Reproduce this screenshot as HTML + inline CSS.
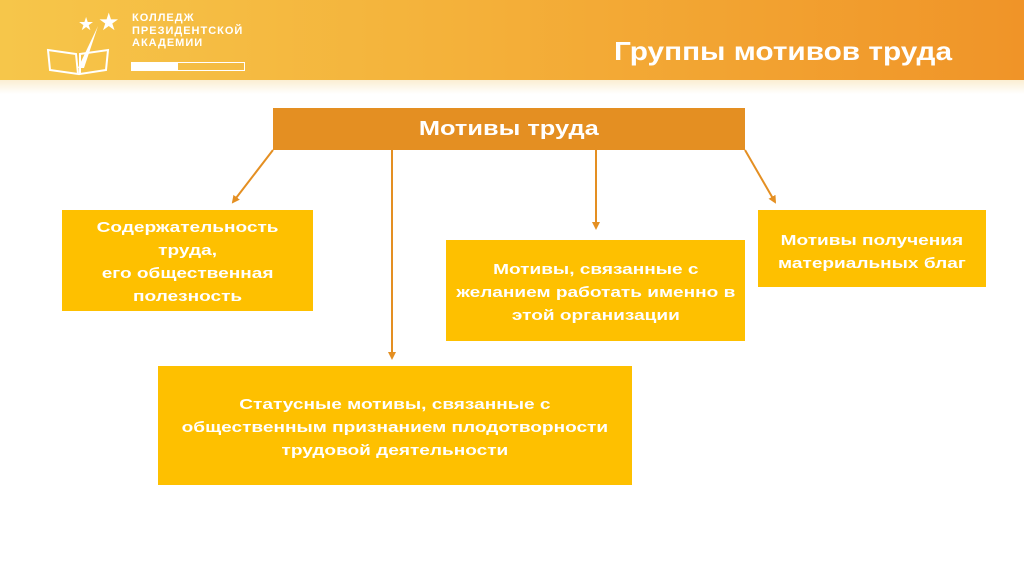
<!DOCTYPE html>
<html><head><meta charset="utf-8"><style>
body{margin:0;width:1024px;height:576px;background:#fff;position:relative;overflow:hidden;font-family:"Liberation Sans",sans-serif}
.hdr{position:absolute;left:0;top:0;width:1024px;height:80px;background:linear-gradient(90deg,#f6c64a 0%,#f4b13a 45%,#f09428 100%)}
.strip{position:absolute;left:0;top:80px;width:1024px;height:14px;background:linear-gradient(180deg,#fbeed2,#fff)}
.title{position:absolute;left:614px;top:36px;color:#fff;font-weight:bold;font-size:26px;transform:scaleX(1.145);transform-origin:left top;white-space:nowrap}
.logo{position:absolute;left:132px;top:12px;color:#fff;font-weight:bold;font-size:11px;line-height:12.5px;letter-spacing:1px}
.b{position:absolute;background:#fec000;color:#fff;font-weight:bold;font-size:15px;display:flex;align-items:center;justify-content:center;text-align:center;line-height:23px}
.b span,.top span{display:inline-block;transform:scaleX(1.27);white-space:nowrap}
.top{position:absolute;left:273px;top:108px;width:472px;height:42px;background:#e48f22;color:#fff;font-weight:bold;font-size:20px;display:flex;align-items:center;justify-content:center}
</style></head><body>
<div class="hdr"></div><div class="strip"></div>
<div class="logo">КОЛЛЕДЖ<br>ПРЕЗИДЕНТСКОЙ<br>АКАДЕМИИ</div>
<div style="position:absolute;left:131px;top:62px;width:114px;height:9px;border:1px solid #fff;box-sizing:border-box"><div style="width:46px;height:7px;background:#fff"></div></div>
<svg style="position:absolute;left:40px;top:8px" width="90" height="70"><g fill="none" stroke="#fff" stroke-width="2"><path d="M8 42 L36 46 L38 66 L10 62Z M40 46 L68 42 L66 62 L40 66Z"/></g><path d="M58 18 L38 60 L44 60 Z" fill="#fff"/><text x="38" y="22" fill="#fff" font-size="18">★</text><text x="58" y="22" fill="#fff" font-size="24">★</text></svg>
<div class="title">Группы мотивов труда</div>
<div class="top"><span>Мотивы труда</span></div>
<svg style="position:absolute;left:0;top:0" width="1024" height="576">
<defs><marker id="a" markerWidth="8" markerHeight="8" refX="6" refY="4" orient="auto" markerUnits="userSpaceOnUse"><path d="M0 0 L8 4 L0 8Z" fill="#e48f22"/></marker></defs>
<g stroke="#e48f22" stroke-width="2" fill="none" marker-end="url(#a)">
<line x1="273" y1="150" x2="233" y2="202"/>
<line x1="392" y1="150" x2="392" y2="358"/>
<line x1="596" y1="150" x2="596" y2="228"/>
<line x1="745" y1="150" x2="775" y2="202"/>
</g></svg>
<div class="b" style="left:62px;top:210px;width:251px;height:101px;padding-top:3px;box-sizing:border-box"><span>Содержательность<br>труда,<br>его общественная<br>полезность</span></div>
<div class="b" style="left:446px;top:240px;width:299px;height:101px;padding-top:3px;box-sizing:border-box"><span>Мотивы, связанные с<br>желанием работать именно в<br>этой организации</span></div>
<div class="b" style="left:758px;top:210px;width:228px;height:77px;align-items:flex-start;padding-top:19px;box-sizing:border-box"><span>Мотивы получения<br>материальных благ</span></div>
<div class="b" style="left:158px;top:366px;width:474px;height:119px;align-items:flex-start;padding-top:27px;box-sizing:border-box"><span>Статусные мотивы, связанные с<br>общественным признанием плодотворности<br>трудовой деятельности</span></div>
</body></html>
